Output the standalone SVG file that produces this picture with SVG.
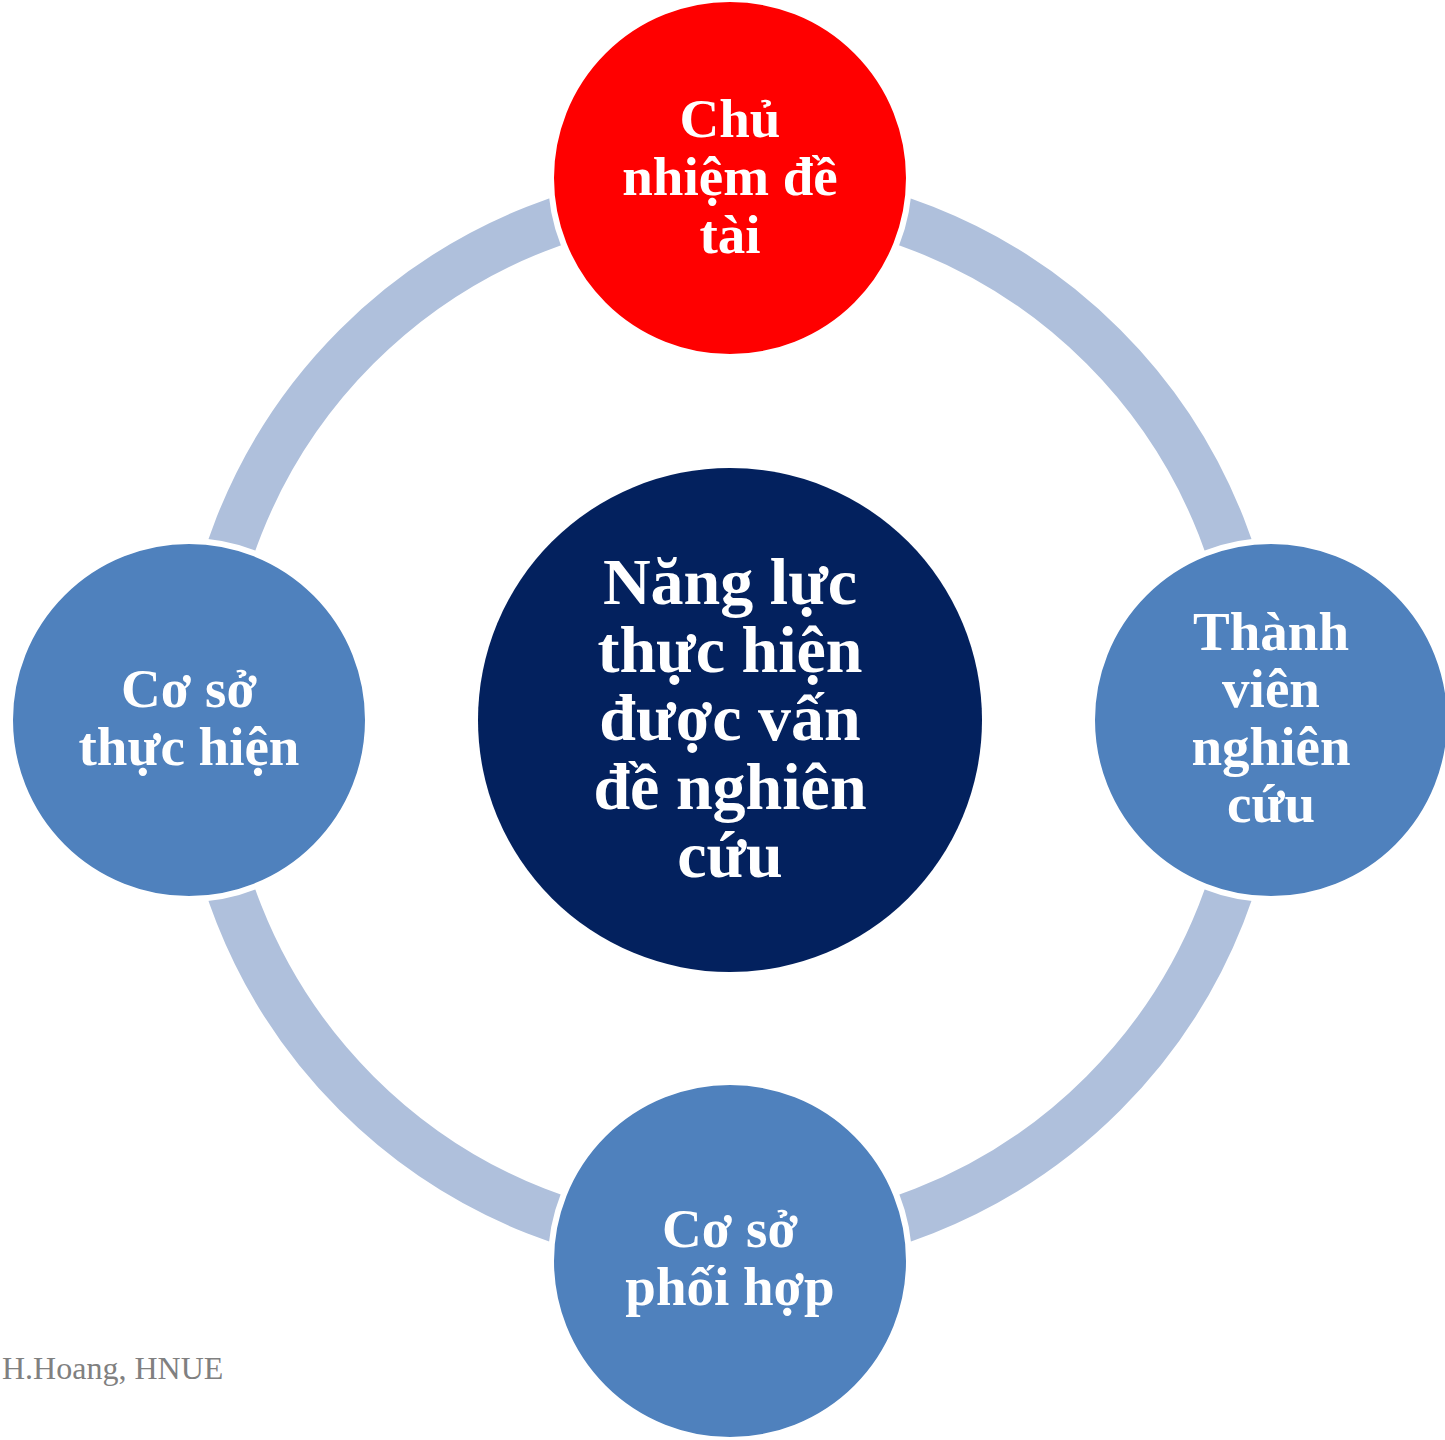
<svg xmlns="http://www.w3.org/2000/svg" width="1445" height="1440" viewBox="0 0 1445 1440">
<style>
.t{font-family:"Liberation Serif","Times New Roman",serif;font-weight:bold;fill:#ffffff;text-anchor:middle}
.c{font-size:66px}
.n{font-size:55px}
.node{stroke:#ffffff;stroke-width:6}
</style>
<rect width="1445" height="1440" fill="#ffffff"/>
<g id="connectors">
<circle cx="730" cy="720" r="528" fill="none" stroke="#afc0dc" stroke-width="48"/>
</g>
<g id="center">
<circle cx="730" cy="720" r="252" fill="#03215e"/>
<text class="t c" x="730" y="604">Năng lực</text>
<text class="t c" x="730" y="672">thực hiện</text>
<text class="t c" x="730" y="740">được vấn</text>
<text class="t c" x="730" y="809">đề nghiên</text>
<text class="t c" x="730" y="877">cứu</text>
</g>
<g id="top">
<circle class="node" cx="730" cy="178" r="179" fill="#ff0000"/>
<text class="t n" x="730" y="137">Chủ</text>
<text class="t n" x="730" y="195">nhiệm đề</text>
<text class="t n" x="730" y="253">tài</text>
</g>
<g id="right">
<circle class="node" cx="1271" cy="720" r="179" fill="#4f81bd"/>
<text class="t n" x="1271" y="650">Thành</text>
<text class="t n" x="1271" y="707">viên</text>
<text class="t n" x="1271" y="765">nghiên</text>
<text class="t n" x="1271" y="822">cứu</text>
</g>
<g id="bottom">
<circle class="node" cx="730" cy="1261" r="179" fill="#4f81bd"/>
<text class="t n" x="730" y="1247">Cơ sở</text>
<text class="t n" x="730" y="1305">phối hợp</text>
</g>
<g id="left">
<circle class="node" cx="189" cy="720" r="179" fill="#4f81bd"/>
<text class="t n" x="189" y="707">Cơ sở</text>
<text class="t n" x="189" y="765">thực hiện</text>
</g>
<text x="2" y="1379" font-family="Liberation Serif,'Times New Roman',serif" font-size="32" fill="#808080">H.Hoang, HNUE</text>
</svg>
